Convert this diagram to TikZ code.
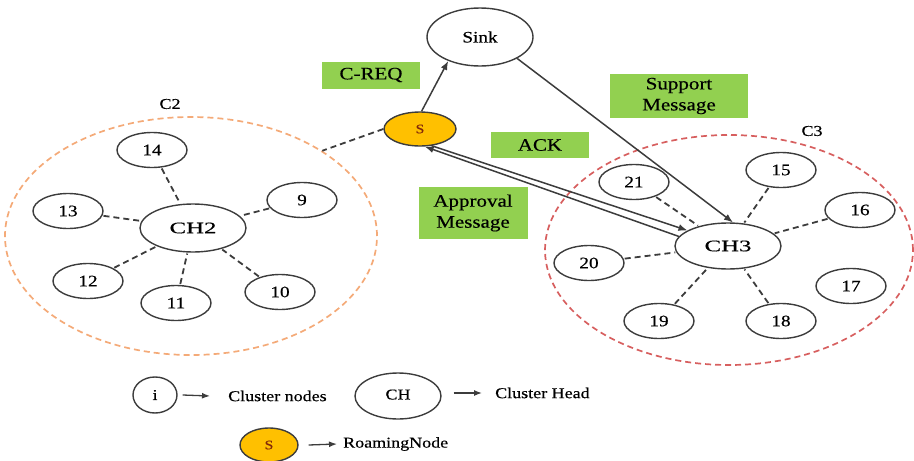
\documentclass[tikz,border=0pt]{standalone}
\usepackage{fontspec}
\setmainfont{Liberation Serif}[FakeStretch=1.2,FakeBold=0.4]
\newfontfamily\chfont{Liberation Serif}[FakeStretch=1.55,FakeBold=0.4]
\usetikzlibrary{shapes.geometric,arrows.meta}
\definecolor{boxgreen}{RGB}{146,208,80}
\definecolor{sorange}{RGB}{255,192,0}
\definecolor{ctwo}{RGB}{244,170,120}
\definecolor{cthree}{RGB}{215,95,95}
\definecolor{edgec}{RGB}{60,60,60}
\definecolor{stext}{RGB}{130,40,10}
\begin{document}
\begin{tikzpicture}[x=1pt,y=-1pt,
  nd/.style={ellipse,draw=edgec,line width=1.4pt,inner sep=0pt,minimum width=70pt,minimum height=35pt,font=\fontsize{16}{18}\selectfont},
  chnode/.style={nd,minimum width=106pt,minimum height=47pt,font=\chfont\fontsize{16}{18}\selectfont},
  snode/.style={ellipse,draw=edgec,line width=1.4pt,fill=sorange,inner sep=0pt,minimum width=72pt,minimum height=34pt,text=stext,font=\fontsize{13}{15}\selectfont},
  lbl/.style={fill=boxgreen,inner sep=0pt,align=center,font=\fontsize{17.5}{21}\selectfont},
  link/.style={draw=edgec,line width=1.8pt,dash pattern=on 6pt off 4pt},
  msg/.style={draw=edgec,line width=1.5pt,-{Latex[length=9pt,width=7pt]}},
  legarrow/.style={draw=edgec,line width=1.3pt,-{Latex[length=8pt,width=6pt]}},
  clus/.style={ellipse,draw,line width=1.7pt,dash pattern=on 6pt off 4pt,inner sep=0pt},
  legt/.style={anchor=west,inner sep=2pt,font=\fontsize{15}{17}\selectfont},
  clabel/.style={font=\fontsize{15}{17}\selectfont}
]
\useasboundingbox (0,0) rectangle (914,461);

% clusters
\node[clus,draw=ctwo,minimum width=372pt,minimum height=238pt] (C2c) at (191,236) {};
\node[clus,draw=cthree,minimum width=368pt,minimum height=230pt] (C3c) at (729,250) {};
\node[clabel] (C2l) at (170,104) {C2};
\node[clabel] (C3l) at (812,131) {C3};

% top nodes
\node[nd,minimum width=106pt,minimum height=58pt] (sink) at (480,37) {Sink};
\node[snode] (S) at (420,129) {S};

% message boxes
\node[lbl,minimum width=98pt,minimum height=27pt] (creq) at (371,75) {C-REQ};
\node[lbl,minimum width=98pt,minimum height=26pt] (ack) at (540,145) {ACK};
\node[lbl,minimum width=109pt,minimum height=52pt] (appr) at (473,213) {Approval\\Message};
\node[lbl,minimum width=138pt,minimum height=44pt] (supp) at (679,96) {Support\\Message};

% cluster 2
\node[chnode,minimum height=48pt] (CH2) at (193,228) {CH2};
\node[nd] (n14) at (152,150) {14};
\node[nd] (n13) at (68,211) {13};
\node[nd] (n9) at (302,200) {9};
\node[nd] (n12) at (88,281) {12};
\node[nd] (n11) at (176,303) {11};
\node[nd] (n10) at (280,292) {10};

% cluster 3
\node[chnode,minimum height=46pt] (CH3) at (728,246) {CH3};
\node[nd] (n15) at (781,170) {15};
\node[nd] (n21) at (634,182) {21};
\node[nd] (n16) at (860,210) {16};
\node[nd] (n20) at (589,263) {20};
\node[nd] (n17) at (851,286) {17};
\node[nd] (n19) at (659,321) {19};
\node[nd] (n18) at (781,321) {18};

% dashed cluster links
\foreach \n in {n14,n13,n9,n12,n11,n10} \draw[link,shorten <=1pt,shorten >=1pt] (\n) -- (CH2);
\foreach \n in {n15,n21,n16,n20,n19,n18} \draw[link,shorten <=1pt,shorten >=1pt] (\n) -- (CH3);
\draw[link] (S.west) -- (C2c.33);

% messages
\draw[msg] (S.85) -- (sink.-143);
\draw[msg] (sink.-30) -- (CH3.78);
\draw[msg] (S.-55) -- (CH3.159);
\draw[msg] (CH3.169) -- (S.-75);

% legend
\node[nd,minimum width=44pt,minimum height=36pt,font=\fontsize{15}{17}\selectfont] (li) at (155,395) {i};
\node[legt] (lt1) at (226,396) {Cluster nodes};
\draw[legarrow] ([xshift=5pt]li.east) -- ([xshift=-16pt]lt1.west);
\node[nd,minimum width=86pt,minimum height=46pt,font=\fontsize{15}{17}\selectfont] (lch) at (398,396) {\raisebox{3pt}{CH}};
\node[legt] (lt2) at (493,393) {Cluster Head};
\draw[legarrow] ([xshift=12pt]lch.east|-lt2.west) -- ([xshift=-11pt]lt2.west);
\node[snode,minimum width=58pt,minimum height=34pt] (ls) at (269,445) {S};
\node[legt] (lt3) at (341,444) {RoamingNode};
\draw[legarrow] ([xshift=10pt]ls.east) -- ([xshift=-4pt]lt3.west);
\end{tikzpicture}
\end{document}
